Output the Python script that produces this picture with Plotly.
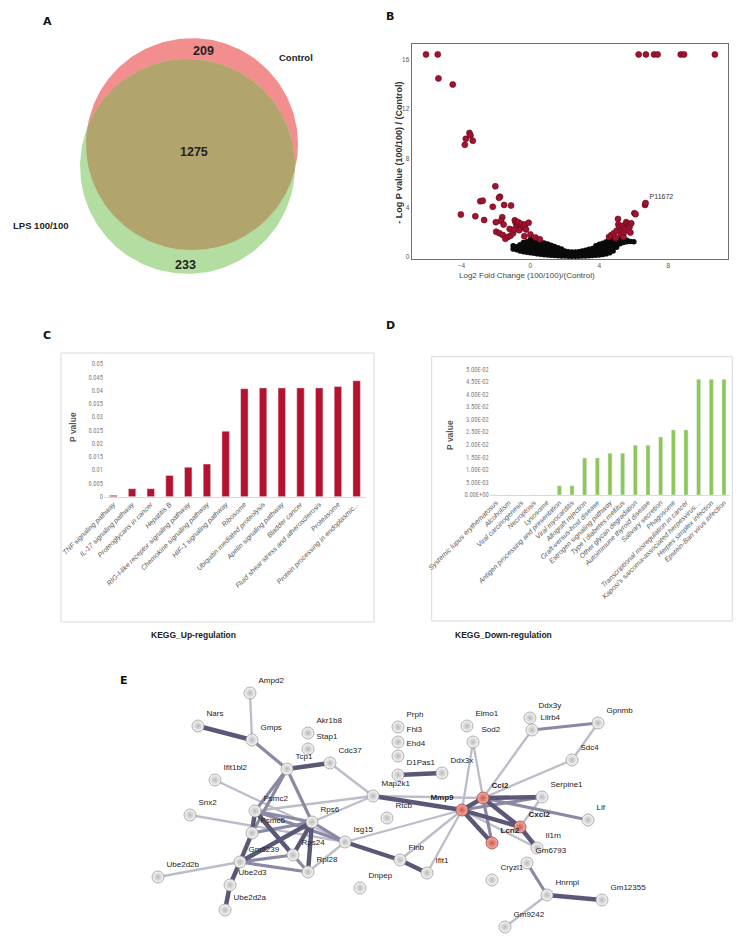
import numpy as np
import plotly.graph_objects as go

W, H = 747, 942


def px(x):
    return x / W


def py(y):
    return 1 - y / H


# ---- A: Venn ----
venn_sets = ["Control", "LPS 100/100"]
venn_counts = [209, 1275, 233]  # only Control, shared, only LPS
venn_cx = [0.0, -0.042]
venn_cy = [0.105, -0.105]
venn_r = [1.0, 1.014]

# ---- B: volcano ----
red_pts = [
    (-6.05, 16.45), (-5.37, 16.45), (6.28, 16.45), (6.7, 16.45), (7.17, 16.45),
    (7.38, 16.45), (8.72, 16.45), (8.91, 16.45), (10.7, 16.45),
    (-5.33, 14.5), (-4.5, 14.0), (-3.53, 10.06), (-3.47, 9.86), (-3.74, 9.58),
    (-3.34, 9.43), (-3.8, 9.1), (-2.03, 5.72), (-1.76, 4.87), (-1.82, 4.78),
    (-2.9, 4.5), (-2.76, 4.55), (-1.52, 4.2), (-2.18, 4.05), (-1.12, 4.15),
    (-4.03, 3.42), (-3.19, 3.28), (-2.68, 2.97), (-1.63, 3.2), (-1.7, 2.9),
    (-2.0, 2.8), (-1.55, 2.6), (-1.98, 2.02), (-1.8, 1.9), (-1.6, 1.75),
    (-1.45, 1.45), (-1.3, 1.6), (-1.15, 1.7), (-1.0, 1.9), (-0.9, 2.95),
    (-0.85, 2.75), (-0.8, 2.6), (-0.75, 2.4), (-0.7, 2.8), (-0.6, 2.5),
    (-0.55, 2.3), (-0.5, 2.65), (-0.4, 2.45), (-0.3, 2.6), (-0.25, 2.2),
    (-0.1, 2.75), (0.0, 1.8), (-0.35, 1.65), (0.3, 1.55), (0.55, 1.4),
    (-1.2, 2.25), (-0.95, 2.2), (-0.65, 2.15),
    (4.56, 1.6), (4.7, 1.75), (4.85, 1.9), (4.95, 1.5), (5.0, 2.1), (5.08, 3.06),
    (5.1, 2.6), (5.17, 2.4), (5.25, 1.8), (5.3, 2.2), (5.36, 2.5), (5.4, 1.6),
    (5.45, 2.0), (5.5, 2.3), (5.56, 2.8), (5.6, 2.65), (5.7, 2.5), (5.75, 2.4),
    (5.8, 1.95), (5.85, 2.7), (6.03, 3.53), (6.1, 3.45), (6.65, 4.2), (6.68, 4.35),
]
black_pts = [
    (-1.0, 0.62), (-1.0, 0.88), (-0.8, 0.55), (-0.8, 0.8),
    (-0.6, 0.45), (-0.6, 0.72), (-0.6, 0.95),
    (-0.4, 0.4), (-0.4, 0.68), (-0.4, 0.98), (-0.4, 1.15),
    (-0.2, 0.35), (-0.2, 0.62), (-0.2, 0.9), (-0.2, 1.2),
    (0.0, 0.3), (0.0, 0.55), (0.0, 0.82), (0.0, 1.08), (0.0, 1.38),
    (0.2, 0.26), (0.2, 0.5), (0.2, 0.76), (0.2, 1.02), (0.2, 1.3),
    (0.4, 0.22), (0.4, 0.46), (0.4, 0.72), (0.4, 0.98), (0.4, 1.25),
    (0.6, 0.18), (0.6, 0.42), (0.6, 0.66), (0.6, 0.92), (0.6, 1.18),
    (0.8, 0.15), (0.8, 0.38), (0.8, 0.6), (0.8, 0.85), (0.8, 1.1),
    (1.0, 0.12), (1.0, 0.34), (1.0, 0.56), (1.0, 0.8), (1.0, 1.02),
    (1.2, 0.1), (1.2, 0.3), (1.2, 0.5), (1.2, 0.72), (1.2, 0.92),
    (1.4, 0.08), (1.4, 0.26), (1.4, 0.45), (1.4, 0.64), (1.4, 0.82),
    (1.6, 0.06), (1.6, 0.22), (1.6, 0.4), (1.6, 0.58), (1.6, 0.72),
    (1.8, 0.05), (1.8, 0.2), (1.8, 0.36), (1.8, 0.5), (1.8, 0.62),
    (2.0, 0.04), (2.0, 0.18), (2.0, 0.32), (2.0, 0.46),
    (2.2, 0.03), (2.2, 0.15), (2.2, 0.28), (2.2, 0.4),
    (2.4, 0.02), (2.4, 0.14), (2.4, 0.26), (2.4, 0.36),
    (2.6, 0.02), (2.6, 0.14), (2.6, 0.26), (2.6, 0.37),
    (2.8, 0.03), (2.8, 0.15), (2.8, 0.28), (2.8, 0.4),
    (3.0, 0.04), (3.0, 0.17), (3.0, 0.31), (3.0, 0.45),
    (3.2, 0.05), (3.2, 0.2), (3.2, 0.35), (3.2, 0.52),
    (3.4, 0.06), (3.4, 0.23), (3.4, 0.4), (3.4, 0.6),
    (3.6, 0.08), (3.6, 0.27), (3.6, 0.46), (3.6, 0.66),
    (3.8, 0.1), (3.8, 0.3), (3.8, 0.52), (3.8, 0.74), (3.8, 0.88),
    (4.0, 0.12), (4.0, 0.35), (4.0, 0.58), (4.0, 0.8), (4.0, 1.0),
    (4.2, 0.16), (4.2, 0.4), (4.2, 0.64), (4.2, 0.88), (4.2, 1.08),
    (4.4, 0.22), (4.4, 0.46), (4.4, 0.72), (4.4, 0.96), (4.4, 1.2),
    (4.6, 0.3), (4.6, 0.55), (4.6, 0.8), (4.6, 1.05), (4.6, 1.28),
    (4.8, 0.45), (4.8, 0.7), (4.8, 0.95), (4.8, 1.2), (4.8, 1.36),
    (5.0, 0.75), (5.0, 1.0), (5.0, 1.22), (5.0, 1.35),
    (5.2, 1.05), (5.2, 1.25), (5.2, 1.38), (5.4, 1.15), (5.4, 1.3),
    (5.6, 1.2), (5.6, 1.32), (5.8, 1.22), (6.0, 1.2),
]
volcano_label = ("P11672", 7.6, 4.85)
volcano_xticks = [-4, 0, 4, 8]
volcano_yticks = [0, 4, 8, 12, 16]

# ---- C / D: KEGG ----
kegg_up_terms = [
    "TNF signaling pathway", "IL-17 signaling pathway", "Proteoglycans in cancer",
    "Hepatitis B", "RIG-I-like receptor signaling pathway",
    "Chemokine signaling pathway", "HIF-1 signaling pathway", "Ribosome",
    "Ubiquitin mediated proteolysis", "Apelin signaling pathway", "Bladder cancer",
    "Fluid shear stress and atherosclerosis", "Proteasome",
    "Protein processing in endoplasmic...",
]
kegg_up_p = [0.0005, 0.003, 0.003, 0.008, 0.0111, 0.0123, 0.0247, 0.0407,
             0.041, 0.041, 0.041, 0.041, 0.0415, 0.0437]
kegg_up_ticks = [0, 0.005, 0.01, 0.015, 0.02, 0.025, 0.03, 0.035, 0.04, 0.045, 0.05]
kegg_up_ticktext = ["0", "0.005", "0.01", "0.015", "0.02", "0.025", "0.03",
                    "0.035", "0.04", "0.045", "0.05"]

kegg_down_terms = [
    "Systemic lupus erythematosus", "Alcoholism", "Viral carcinogenesis",
    "Necroptosis", "Lysosome", "Antigen processing and presentation",
    "Viral myocarditis", "Allograft rejection", "Graft-versus-host disease",
    "Estrogen signaling pathway", "Type I diabetes mellitus",
    "Other glycan degradation", "Autoimmune thyroid disease", "Salivary secretion",
    "Phagosome", "Transcriptional misregulation in cancer",
    "Kaposi's sarcoma-associated herpesvirus…", "Herpes simplex infection",
    "Epstein-Barr virus infection",
]
kegg_down_p = [0, 0, 0, 0, 0, 0.0037, 0.0037, 0.0147, 0.0147, 0.0166, 0.0166,
               0.0198, 0.0198, 0.0231, 0.0259, 0.0259, 0.046, 0.046, 0.046]
kegg_down_ticks = [0, 0.005, 0.01, 0.015, 0.02, 0.025, 0.03, 0.035, 0.04, 0.045, 0.05]
kegg_down_ticktext = ["0.00E+00", "5.00E-03", "1.00E-02", "1.50E-02", "2.00E-02",
                      "2.50E-02", "3.00E-02", "3.50E-02", "4.00E-02", "4.50E-02",
                      "5.00E-02"]

# ---- E: STRING network (layout coordinates) ----
net_nodes = ["Ampd2", "Nars", "Gmps", "Akr1b8", "Stap1", "Cdc37", "Tcp1", "Ifit1bl2",
             "Map2k1", "Psmc2", "Rps6", "Rtcb", "Snx2", "Psmc6", "Isg15", "Rps24",
             "Gm5239", "Rpl28", "Flnb", "Ube2d2b", "Ube2d3", "Dnpep", "Ube2d2a",
             "Prph", "Fhl3", "Ehd4", "D1Pas1", "Ddx3x", "Elmo1", "Sod2", "Ddx3y",
             "Lilrb4", "Gpnmb", "Sdc4", "Ccl2", "Serpine1", "Mmp9", "Lif", "Cxcl2",
             "Lcn2", "Il1rn", "Gm6793", "Ifit1", "Cryzl1", "Hnrnpl", "Gm12355",
             "Gm9242"]
net_x = [250, 198, 252, 308, 308, 330, 287, 215, 373, 255, 312, 387, 190, 252, 345,
         293, 240, 308, 400, 158, 230, 360, 225, 398, 398, 398, 398, 442, 467, 473,
         530, 532, 598, 572, 483, 542, 462, 588, 520, 492, 537, 527, 427, 492, 547,
         602, 505]
net_y = [693, 726, 740, 733, 749, 763, 769, 780, 796, 811, 822, 818, 815, 833, 842,
         855, 862, 872, 860, 877, 885, 888, 910, 727, 742, 756, 775, 773, 726, 742,
         718, 730, 723, 760, 798, 797, 810, 820, 827, 843, 848, 863, 873, 880, 895,
         900, 927]
net_hubs = ["Ccl2", "Mmp9", "Cxcl2", "Lcn2"]
net_edges = [
    ("Ampd2", "Gmps", 1), ("Cdc37", "Map2k1", 1), ("Ifit1bl2", "Isg15", 1),
    ("Snx2", "Isg15", 1), ("Rps6", "Map2k1", 1), ("Psmc2", "Map2k1", 1),
    ("Gm5239", "Ube2d2b", 1), ("Isg15", "Rpl28", 1), ("Isg15", "Mmp9", 1),
    ("Map2k1", "Ccl2", 1), ("Sod2", "Mmp9", 1), ("Sod2", "Ccl2", 1),
    ("Mmp9", "Flnb", 1), ("Mmp9", "Ifit1", 1), ("Ccl2", "Lilrb4", 1),
    ("Ccl2", "Sdc4", 1), ("Gpnmb", "Sdc4", 1), ("Hnrnpl", "Gm9242", 1),
    ("Serpine1", "Cxcl2", 1), ("Mmp9", "Il1rn", 1),
    ("Gmps", "Tcp1", 2), ("Tcp1", "Psmc2", 2), ("Tcp1", "Psmc6", 2),
    ("Tcp1", "Rps6", 2), ("Psmc2", "Rps6", 2), ("Psmc2", "Isg15", 2),
    ("Psmc6", "Rps6", 2), ("Rps6", "Isg15", 2), ("Gm5239", "Rpl28", 2),
    ("Lilrb4", "Gpnmb", 2), ("Mmp9", "Serpine1", 2), ("Ccl2", "Lcn2", 2),
    ("Gm6793", "Hnrnpl", 2), ("Gm5239", "Rps24", 2), ("Ccl2", "Lif", 2),
    ("Rps24", "Rpl28", 2),
    ("Nars", "Gmps", 3), ("Tcp1", "Cdc37", 3), ("Psmc2", "Psmc6", 3),
    ("Psmc6", "Gm5239", 3), ("Gm5239", "Ube2d3", 3), ("Ube2d3", "Ube2d2a", 3),
    ("Psmc2", "Rps24", 3), ("Rps6", "Gm5239", 3), ("Rps6", "Rps24", 3),
    ("Rps6", "Rpl28", 3), ("Isg15", "Flnb", 3), ("Flnb", "Ifit1", 3),
    ("Map2k1", "Mmp9", 3), ("D1Pas1", "Ddx3x", 3), ("Mmp9", "Ccl2", 3),
    ("Mmp9", "Lcn2", 3), ("Mmp9", "Cxcl2", 3), ("Ccl2", "Cxcl2", 3),
    ("Ccl2", "Serpine1", 3), ("Cxcl2", "Il1rn", 3), ("Hnrnpl", "Gm12355", 3),
]

ARIAL = "Arial, Liberation Sans, sans-serif"
NARROW = "Liberation Sans Narrow, Arial Narrow, Roboto Condensed, sans-serif"

fig = go.Figure()


def circle_xy(cx, cy, r, n=240):
    t = np.linspace(0, 2 * np.pi, n)
    return cx + r * np.cos(t), cy + r * np.sin(t)


def lens_xy(c1, r1, c2, r2, n=160):
    c1, c2 = np.array(c1), np.array(c2)
    d = np.linalg.norm(c2 - c1)
    u = (c2 - c1) / d
    a = (r1 ** 2 - r2 ** 2 + d ** 2) / (2 * d)
    h = np.sqrt(r1 ** 2 - a ** 2)
    perp = np.array([-u[1], u[0]])
    p1 = c1 + a * u + h * perp
    p2 = c1 + a * u - h * perp

    def arc(c, r, pa, pb, toward):
        ta = np.arctan2(pa[1] - c[1], pa[0] - c[0])
        tb = np.arctan2(pb[1] - c[1], pb[0] - c[0])
        tt = np.arctan2(toward[1], toward[0])
        tb_ccw = ta + (tb - ta) % (2 * np.pi)
        tt_ccw = ta + (tt - ta) % (2 * np.pi)
        if tt_ccw <= tb_ccw:
            t = np.linspace(ta, tb_ccw, n)
        else:
            t = np.linspace(ta, ta - (ta - tb) % (2 * np.pi), n)
        return c[0] + r * np.cos(t), c[1] + r * np.sin(t)

    x1, y1 = arc(c1, r1, p1, p2, u)
    x2, y2 = arc(c2, r2, p2, p1, -u)
    return np.concatenate([x1, x2]), np.concatenate([y1, y2])


# Venn circles + overlap lens
for cx, cy, r, color in zip(venn_cx, venn_cy, venn_r, ["#F28E8E", "#B4DEA1"]):
    cxs, cys = circle_xy(cx, cy, r)
    fig.add_trace(go.Scatter(x=cxs, y=cys, fill="toself", fillcolor=color, mode="lines",
                             line=dict(width=0), hoverinfo="skip", xaxis="x", yaxis="y"))
lx, ly = lens_xy((venn_cx[0], venn_cy[0]), venn_r[0], (venn_cx[1], venn_cy[1]), venn_r[1])
fig.add_trace(go.Scatter(x=lx, y=ly, fill="toself", fillcolor="#B2A46D", mode="lines",
                         line=dict(width=0), hoverinfo="skip", xaxis="x", yaxis="y"))

# Volcano
rx, ry = zip(*red_pts)
bx, by = zip(*black_pts)
fig.add_trace(go.Scatter(x=bx, y=by, mode="markers", xaxis="x2", yaxis="y2",
                         marker=dict(size=5.5, color="#0A0A0A")))
fig.add_trace(go.Scatter(x=rx, y=ry, mode="markers", xaxis="x2", yaxis="y2",
                         marker=dict(size=6, color="#A3122F",
                                     line=dict(width=0.6, color="#5A0A18"))))
fig.add_trace(go.Scatter(x=[volcano_label[1]], y=[volcano_label[2]], mode="text",
                         text=[volcano_label[0]], textposition="middle center",
                         textfont=dict(size=7, color="#333", family=ARIAL),
                         xaxis="x2", yaxis="y2"))

# KEGG bars
fig.add_trace(go.Bar(x=kegg_up_terms, y=kegg_up_p, marker_color="#B4122E", width=0.4,
                     xaxis="x3", yaxis="y3"))
fig.add_trace(go.Bar(x=kegg_down_terms, y=kegg_down_p, marker_color="#8CC653", width=0.32,
                     xaxis="x4", yaxis="y4"))

# Network edges
idx = {n: i for i, n in enumerate(net_nodes)}
edge_style = {1: ("#BDBCCB", 2.3), 2: ("#8B89A4", 3.2), 3: ("#5A5876", 4.4)}
for w in (1, 2, 3):
    ex, ey = [], []
    for a, b, ww in net_edges:
        if ww != w:
            continue
        ex += [net_x[idx[a]], net_x[idx[b]], None]
        ey += [net_y[idx[a]], net_y[idx[b]], None]
    color, width = edge_style[w]
    fig.add_trace(go.Scatter(x=ex, y=ey, mode="lines", line=dict(color=color, width=width),
                             hoverinfo="skip", xaxis="x5", yaxis="y5"))

# Network nodes
is_hub = [n in net_hubs for n in net_nodes]
for hub in (False, True):
    sel = [i for i, h in enumerate(is_hub) if h == hub]
    fig.add_trace(go.Scatter(
        x=[net_x[i] for i in sel], y=[net_y[i] for i in sel],
        mode="markers+text", cliponaxis=False,
        text=[f"<b>{net_nodes[i]}</b>" if hub else net_nodes[i] for i in sel],
        textposition=["top left" if net_nodes[i] == "Mmp9" else "top right" for i in sel],
        textfont=dict(size=8, color="#222222", family=ARIAL),
        marker=dict(size=12,
                    color="#F6B0A6" if hub else "#FAFAFA",
                    gradient=dict(type="radial", color="#CF5A50" if hub else "#B9B9B9"),
                    line=dict(width=0.8, color="#9A4A44" if hub else "#9C9C9C")),
        xaxis="x5", yaxis="y5"))

# ---- axes ----
S, OX, OY = 106.0, 192.0, 155.25
hidden = dict(visible=False, showgrid=False, zeroline=False, fixedrange=True, automargin=False)
cat_font = dict(size=7, color="#595959", family=ARIAL, style="italic")
num_font = dict(size=6.5, color="#7F7F7F", family=NARROW)
volc_font = dict(size=6.5, color="#555", family=ARIAL)

fig.update_layout(
    width=W, height=H, margin=dict(l=0, r=0, t=0, b=0, pad=0),
    paper_bgcolor="white", plot_bgcolor="white", showlegend=False,
    font=dict(family=ARIAL, color="#222"),
    xaxis=dict(hidden, domain=[px(20), px(360)],
               range=[-(OX - 20) / S, (360 - OX) / S]),
    yaxis=dict(hidden, domain=[py(300), py(20)],
               range=[-(300 - OY) / S, (OY - 20) / S]),
    xaxis2=dict(domain=[px(411.7), px(728)], range=[-6.88, 11.46], automargin=False,
                tickvals=volcano_xticks, showgrid=False, zeroline=False,
                showline=True, mirror=True, linecolor="#707070", linewidth=1.2,
                ticks="", tickfont=volc_font, anchor="y2"),
    yaxis2=dict(domain=[py(259), py(44)], range=[-0.2, 17.3], automargin=False,
                tickvals=volcano_yticks, showgrid=False, zeroline=False,
                showline=True, mirror=True, linecolor="#707070", linewidth=1.2,
                ticks="", tickfont=volc_font, anchor="x2"),
    xaxis3=dict(domain=[px(104), px(366)], range=[-0.5, len(kegg_up_terms) - 0.5],
                automargin=False, tickangle=-45, tickfont=cat_font, showgrid=False,
                zeroline=False, showline=True, linecolor="#D9D9D9", ticks="", anchor="y3"),
    yaxis3=dict(domain=[py(496.7), py(364)], range=[0, 0.05], automargin=False,
                tickvals=kegg_up_ticks, ticktext=kegg_up_ticktext, tickfont=num_font,
                showgrid=False, zeroline=False, showline=False, anchor="x3"),
    xaxis4=dict(domain=[px(489.7), px(730.3)], range=[-0.5, len(kegg_down_terms) - 0.5],
                automargin=False, tickangle=-45, tickfont=cat_font, showgrid=False,
                zeroline=False, showline=True, linecolor="#D9D9D9", ticks="", anchor="y4"),
    yaxis4=dict(domain=[py(495), py(369.3)], range=[0, 0.05], automargin=False,
                tickvals=kegg_down_ticks, ticktext=kegg_down_ticktext, tickfont=num_font,
                showgrid=False, zeroline=False, showline=False, anchor="x4"),
    xaxis5=dict(hidden, domain=[px(140), px(660)], range=[140, 660]),
    yaxis5=dict(hidden, domain=[py(940), py(680)], range=[940, 680]),
)

# outer chart boxes for C and D
for x0, y0, x1, y1 in [(61, 353, 374, 622), (431.7, 356.7, 732.3, 621)]:
    fig.add_shape(type="rect", xref="paper", yref="paper",
                  x0=px(x0), x1=px(x1), y0=py(y1), y1=py(y0),
                  line=dict(color="#D9D9D9", width=1), fillcolor="rgba(0,0,0,0)", layer="below")


def note(text, x, y, size=9, color="#222", angle=0, bold=False, family=ARIAL):
    fig.add_annotation(text=f"<b>{text}</b>" if bold else text, x=px(x), y=py(y),
                       xref="paper", yref="paper", showarrow=False, textangle=angle,
                       font=dict(size=size, color=color, family=family),
                       xanchor="center", yanchor="middle")


# panel letters
for letter, x, y in [("A", 48, 22), ("B", 390, 17), ("C", 47, 335), ("D", 390, 326), ("E", 124, 680)]:
    note(letter, x, y, size=11, color="#111", bold=True, family="DejaVu Sans, Arial, sans-serif")

# Venn texts
note(str(venn_counts[0]), 203, 51, size=12.5, bold=True)
note(str(venn_counts[1]), 194, 152, size=12.5, bold=True)
note(str(venn_counts[2]), 185, 265, size=12.5, bold=True)
note(venn_sets[0], 296, 58, size=9.5, bold=True)
note(venn_sets[1], 40, 225, size=9.5, bold=True)

# Volcano titles
note("- Log P value (100/100) / (Control)", 399, 152.8, size=9, color="#333", angle=-90, bold=True)
note("Log2 Fold Change (100/100)/(Control)", 527, 276, size=8, color="#444")

# KEGG titles
note("P value", 73, 427, size=8.5, color="#595959", angle=-90, bold=True)
note("P value", 450, 435, size=8.5, color="#595959", angle=-90, bold=True)
note("KEGG_Up-regulation", 193, 635, size=8.5, color="#222", bold=True)
note("KEGG_Down-regulation", 503, 635, size=8.5, color="#222", bold=True)

fig.write_html("out.html", config={"displayModeBar": False},
               post_script="document.body.style.margin='0';")
